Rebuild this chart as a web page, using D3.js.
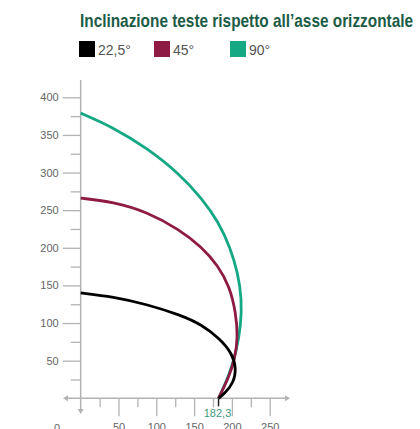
<!DOCTYPE html>
<html>
<head>
    <meta charset="utf-8">
    <script src="https://d3js.org/d3.v7.min.js"></script>
    <style>
        body { margin: 0; background: #fff; }
        text { font-family: "Liberation Sans", Arial, sans-serif; }
    </style>
</head>
<body>
    <div id="chart"></div>
    <script>
        // Series: [distance, height] pairs
        var seriesNames = ['22,5°', '45°', '90°'];
        var seriesColors = ['#000000', '#8e1b43', '#14a884'];

        var black = [[0, 140], [43, 135], [87, 125], [131, 111], [160, 98], [184, 79], [200, 60],
                     [206, 40], [202, 20], [190, 6], [182.3, 0]];
        var crimson = [[0, 266], [43, 261], [87, 248], [131, 224], [160, 201], [182, 176],
                       [197, 148], [205, 115], [208, 82], [204, 52], [195, 26], [186, 8], [182.3, 0]];
        var teal = [[0, 379], [43, 360], [87, 333], [131, 298], [160, 266], [182, 235],
                    [198, 200], [208, 166], [213, 132], [212, 98], [206, 62], [196, 30], [186, 8], [182.3, 0]];

        var yMajor = [50, 100, 150, 200, 250, 300, 350, 400];
        var yMinor = [25, 75, 125, 175, 225, 275, 325, 375];
        var xMajor = [50, 100, 150, 200, 250];
        var xMinor = [25, 75, 125, 175, 225];
        var origin = 182.3;

        var svg = d3.select('#chart').append('svg')
            .attr('width', 420)
            .attr('height', 429);

        var x = d3.scaleLinear().domain([0, 250]).range([80.7, 269.7]);
        var y = d3.scaleLinear().domain([0, 400]).range([398.3, 97.3]);

        var axisColor = '#b3b3b3';

        // title
        svg.append('text')
            .attr('x', 80)
            .attr('y', 27)
            .attr('textLength', 333)
            .attr('lengthAdjust', 'spacingAndGlyphs')
            .style('font-family', '"Liberation Sans Narrow", "Liberation Sans", Arial, sans-serif')
            .style('font-weight', 'bold')
            .style('font-size', '19px')
            .style('fill', '#1d5b47')
            .text('Inclinazione teste rispetto all\u2019asse orizzontale');

        // legend
        var legendX = [79, 154, 230];
        var legend = svg.selectAll('.legend')
            .data(seriesNames)
            .enter().append('g')
            .attr('class', 'legend')
            .attr('transform', function(d, i) { return 'translate(' + legendX[i] + ',41)'; });
        legend.append('rect')
            .attr('width', 16).attr('height', 16)
            .attr('fill', function(d, i) { return seriesColors[i]; });
        legend.append('text')
            .attr('x', 19).attr('y', 14)
            .style('font-size', '14px')
            .style('fill', '#555')
            .text(function(d) { return d; });

        // y axis ticks
        var gy = svg.append('g').attr('transform', 'translate(' + x(0) + ',0)');
        gy.call(d3.axisLeft(y).tickValues(yMajor).tickSize(18).tickPadding(4));
        gy.append('g').call(d3.axisLeft(y).tickValues(yMinor).tickSize(10).tickFormat(''));

        // x axis ticks
        var gx = svg.append('g').attr('transform', 'translate(0,' + y(0) + ')');
        gx.call(d3.axisBottom(x).tickValues(xMajor).tickSize(18).tickPadding(7));
        gx.append('g').call(d3.axisBottom(x).tickValues(xMinor).tickSize(9).tickFormat(''));

        svg.selectAll('.domain').remove();
        svg.selectAll('.tick line').attr('stroke', axisColor).attr('stroke-width', 1.3);
        svg.selectAll('.tick text')
            .style('font-family', '"Liberation Sans", Arial, sans-serif')
            .style('font-size', '11px')
            .attr('fill', '#666');

        // axis lines with arrows
        svg.append('line')
            .attr('x1', x(0)).attr('x2', x(0))
            .attr('y1', 80).attr('y2', 412)
            .attr('stroke', axisColor).attr('stroke-width', 1.5);
        svg.append('line')
            .attr('x1', 66).attr('x2', 287)
            .attr('y1', y(0)).attr('y2', y(0))
            .attr('stroke', axisColor).attr('stroke-width', 1.5);
        var arrows = [
            [[x(0) - 3, 409], [x(0) + 3, 409], [x(0), 414]],
            [[68, y(0) - 3], [68, y(0) + 3], [63, y(0)]],
            [[285, y(0) - 3], [285, y(0) + 3], [290, y(0)]]
        ];
        svg.selectAll('.arrow')
            .data(arrows)
            .enter().append('path')
            .attr('class', 'arrow')
            .attr('d', function(d) { return 'M' + d.join('L') + 'Z'; })
            .attr('fill', axisColor);

        // origin label
        svg.append('text')
            .attr('x', 57).attr('y', 432)
            .attr('text-anchor', 'middle')
            .style('font-size', '11px')
            .style('fill', '#666')
            .text('0');

        // starting point tick and label
        svg.append('line')
            .attr('x1', x(origin)).attr('x2', x(origin))
            .attr('y1', y(0)).attr('y2', y(0) + 8)
            .attr('stroke', '#222').attr('stroke-width', 1.5);
        svg.append('text')
            .attr('x', x(origin) - 1).attr('y', 417)
            .attr('text-anchor', 'middle')
            .style('font-size', '11px')
            .style('fill', '#3f9a80')
            .text('182,3');

        // curves
        var line = d3.line()
            .x(function(d) { return x(d[0]); })
            .y(function(d) { return y(d[1]); })
            .curve(d3.curveBasis);

        var allSeries = [teal, crimson, black];
        var allColors = [seriesColors[2], seriesColors[1], seriesColors[0]];
        svg.selectAll('.curve')
            .data(allSeries)
            .enter().append('path')
            .attr('class', 'curve')
            .attr('fill', 'none')
            .attr('stroke', function(d, i) { return allColors[i]; })
            .attr('stroke-width', 2.8)
            .attr('d', line);
    </script>
</body>
</html>
